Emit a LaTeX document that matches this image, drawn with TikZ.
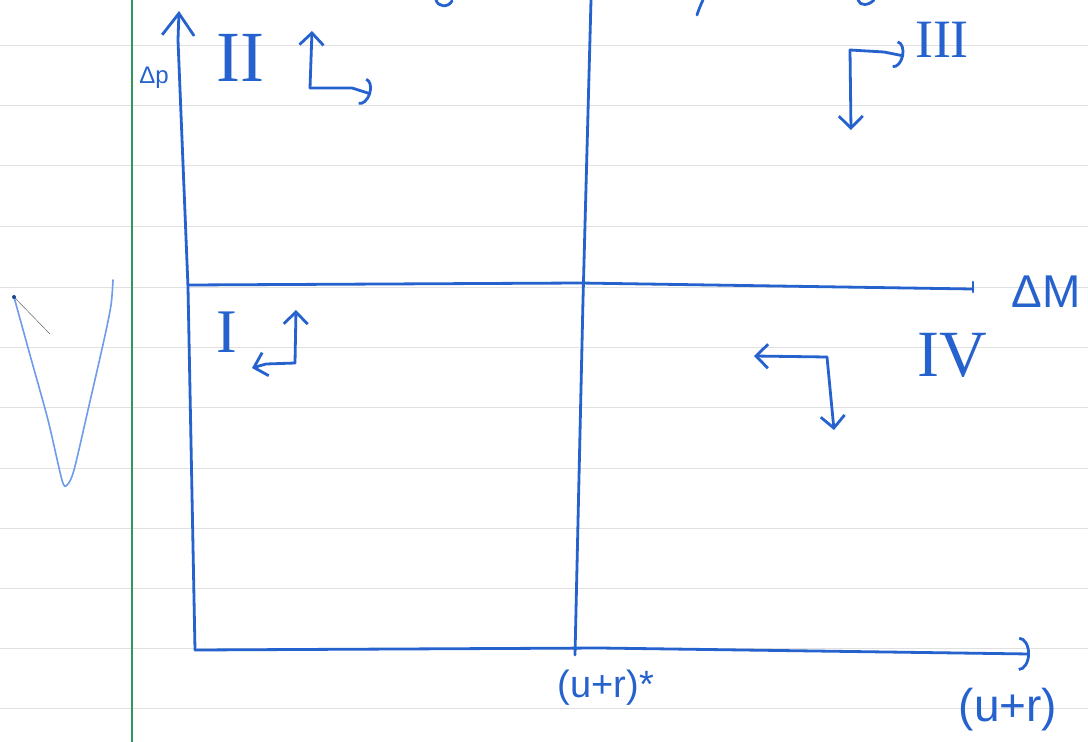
\documentclass[tikz,border=0pt]{standalone}
\usepackage{fontspec}
\setmainfont{Liberation Sans}
\newfontfamily\numfont{Liberation Serif}
\usetikzlibrary{arrows.meta}
\definecolor{ink}{RGB}{38,98,205}
\definecolor{pale}{RGB}{110,155,235}
\definecolor{rulegrey}{RGB}{224,224,224}
\definecolor{marginc}{RGB}{50,150,90}
\tikzset{
  inkline/.style={draw=ink, line width=2.8pt, line cap=round, line join=round},
  bigbarb/.style={-{Straight Barb[length=22pt,width=32pt]}},
  barb/.style={-{Straight Barb[length=12pt,width=24pt]}},
  bigarc/.style={-{Arc Barb[length=11pt,width=34pt]}},
  smallarc/.style={-{Arc Barb[length=9pt,width=28pt]}},
  lbl/.style={text=ink, inner sep=0pt},
  numlbl/.style={text=ink, inner sep=0pt, font=\numfont},
}
\begin{document}
\begin{tikzpicture}[x=1pt,y=-1pt]
\fill[white] (0,0) rectangle (1088,742);
\useasboundingbox (0,0) rectangle (1088,742);
% ruled paper
\foreach \y in {45,105,165,226,287,347,407,468,528,588,648,708}
  \draw[rulegrey, line width=1pt] (0,\y) -- (1088,\y);
\draw[marginc, line width=1.2pt] (132,0) -- (132,742);

% left pale V scribble
\draw[pale, line width=1.6pt, line cap=round, line join=round]
  plot[smooth, tension=0.5] coordinates {(14,297) (30,355) (48,420) (62,480) (67,485) (74,470) (88,410) (104,340) (111,305) (113,280)};
\draw[black!60, line width=0.5pt] (14,297) -- (50,334);
\fill[ink!70!black] (14,297) circle (2pt);

% cut-off strokes at the top edge
\draw[inkline] (436,0) .. controls (438,7) and (448,8) .. (452,1);
\draw[inkline] (703,0) .. controls (700,6) and (698,12) .. (697,15);
\draw[inkline] (858,0) .. controls (860,6) and (868,6) .. (874,0);

% axes and grid lines
\coordinate (O) at (195,650);
\coordinate (ymid) at (188,287);
\coordinate (ytop) at (179,11);
\coordinate (xend) at (1030,654);
\draw[inkline, bigbarb] (O) -- (ymid) -- (178,40) -- (ytop);
\draw[inkline, bigarc] (O) -- (600,648) -- (xend);
\coordinate (mL) at (188,285);
\coordinate (mR) at (973,289);
\draw[inkline] (mL) -- (580,283) -- (mR);
\draw[inkline] (973,282) -- (973,292);
\coordinate (vTop) at (591,0);
\coordinate (vBot) at (575,655);
\draw[inkline] (vTop) -- (583,300) -- (vBot);

% quadrant II arrows
\coordinate (c2) at (310,88);
\coordinate (c2u) at (312,31);
\coordinate (c2r) at (371,94);
\draw[inkline, barb] (c2) -- (c2u);
\draw[inkline, smallarc] (c2) -- (352,88) -- (c2r);

% quadrant III arrows
\coordinate (c3) at (850,50);
\coordinate (c3r) at (904,56);
\coordinate (c3d) at (851,130);
\draw[inkline, smallarc] (c3) -- (884,52) -- (c3r);
\draw[inkline, barb] (c3) -- (c3d);

% quadrant I arrows
\coordinate (c1) at (295,363);
\coordinate (c1u) at (296,310);
\coordinate (c1l) at (252,368);
\draw[inkline, barb] (c1) -- (c1u);
\draw[inkline, barb] (c1) -- (266,364) -- (c1l);

% quadrant IV arrows
\coordinate (c4) at (827,357);
\coordinate (c4l) at (754,356);
\coordinate (c4d) at (834,430);
\draw[inkline, barb] (c4) -- (c4l);
\draw[inkline, barb] (c4) -- (c4d);

% labels
\node[numlbl, font=\numfont\fontsize{72}{72}\selectfont] (nII) at (240,58) {II};
\node[numlbl, font=\numfont\fontsize{54}{54}\selectfont] (nIII) at (942,40) {III};
\node[numlbl, font=\numfont\fontsize{62}{62}\selectfont] (nI) at (227,332) {I};
\node[numlbl, font=\numfont\fontsize{66}{66}\selectfont] (nIV) at (952,355) {IV};
\node[lbl, font=\fontsize{24}{24}\selectfont] (dp) at (154,78) {Δp};
\node[lbl, font=\fontsize{46}{46}\selectfont] (dM) at (1046,292) {ΔM};
\node[lbl, font=\fontsize{38}{38}\selectfont] (ustar) at (606,688) {(u+r)*};
\node[lbl, font=\fontsize{46}{46}\selectfont] (ur) at (1008,710) {(u+r)};
\end{tikzpicture}
\end{document}
